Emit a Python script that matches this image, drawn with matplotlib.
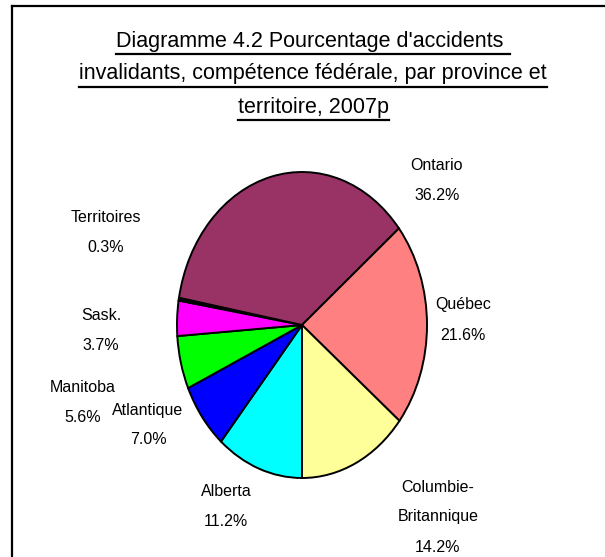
import matplotlib
matplotlib.use("Agg")
import matplotlib.pyplot as plt
from matplotlib.lines import Line2D

# ─── Données ─────────────────────────────────────────────────────────────────
# ordre : en partant du bas, sens horaire (comme dans Excel)
regions = ["Alberta", "Atlantique", "Manitoba", "Sask.", "Territoires",
           "Ontario", "Québec", "Columbie-\nBritannique"]
pourcentages = [11.2, 7.0, 5.6, 3.7, 0.3, 36.2, 21.6, 14.2]

title_lines = ["Diagramme 4.2 Pourcentage d'accidents ",
               "invalidants, compétence fédérale, par province et",
               "territoire, 2007p"]

# ─── Style ───────────────────────────────────────────────────────────────────
couleurs = ["#00FFFF", "#0000FF", "#00FF00", "#FF00FF", "#000000",
            "#993366", "#FF8080", "#FFFF99"]
FONT = ["Liberation Sans", "DejaVu Sans"]
W, H = 605, 557

# positions des étiquettes (pixels, centre de la première ligne)
label_pos = [(226, 492), (148, 410), (83, 388), (101, 316), (106, 218),
             (437, 165), (463, 305), (438, 487)]
LINE_STEP = 30


def fx(px):
    return px / W


def fy(py):
    return 1 - py / H


fig = plt.figure(figsize=(W / 100, H / 100), dpi=100)
fig.patch.set_facecolor("white")

# cadre (seulement haut et gauche visibles)
fig.add_artist(Line2D([fx(12), fx(12)], [fy(6), fy(H + 5)], color="black", lw=1.6))
fig.add_artist(Line2D([fx(12), fx(W + 5)], [fy(6), fy(6)], color="black", lw=1.6))

# ─── Camembert (elliptique) ──────────────────────────────────────────────────
cx, cy, rx, ry = 302, 325, 125, 153
ax = fig.add_axes([fx(cx - rx), fy(cy + ry), 2 * rx / W, 2 * ry / H])
ax.pie(pourcentages, colors=couleurs, startangle=270, counterclock=False,
       wedgeprops=dict(edgecolor="black", linewidth=1.4))
ax.set_aspect("auto")
ax.set_xlim(-1, 1)
ax.set_ylim(-1, 1)
ax.axis("off")

# étiquettes
for nom, pct, (px, py) in zip(regions, pourcentages, label_pos):
    lignes = nom.split("\n") + [f"{pct:.1f}%"]
    for i, ligne in enumerate(lignes):
        fig.text(fx(px), fy(py + i * LINE_STEP), ligne, ha="center", va="center",
                 fontsize=11.5, family=FONT, color="black")

# ─── Titre souligné ──────────────────────────────────────────────────────────
title_y = [41, 74, 107]
textes = []
for ligne, py in zip(title_lines, title_y):
    t = fig.text(fx(313), fy(py), ligne, ha="center", va="center",
                 fontsize=15.5, family=FONT, color="black")
    textes.append(t)

fig.canvas.draw()
renderer = fig.canvas.get_renderer()
for t in textes:
    bb = t.get_window_extent(renderer)
    y = (bb.y0 - 2.5) / H
    fig.add_artist(Line2D([bb.x0 / W, bb.x1 / W], [y, y], color="black", lw=1.6))

fig.savefig("out.png", dpi=100, facecolor="white")
plt.close(fig)
